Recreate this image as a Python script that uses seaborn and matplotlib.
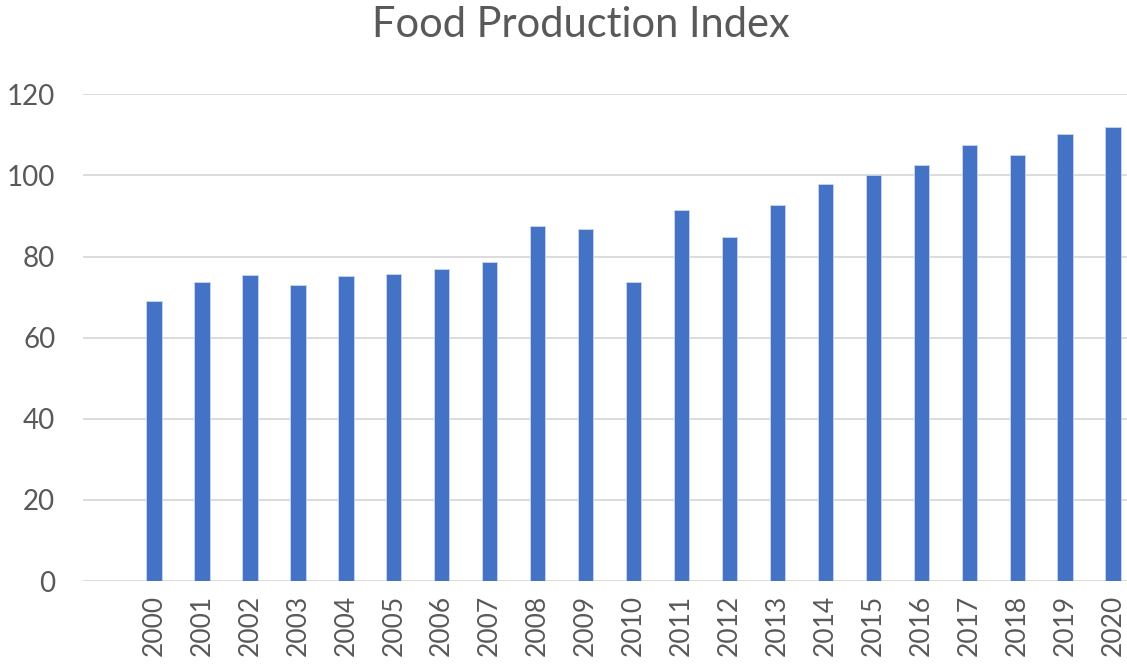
import matplotlib
matplotlib.use("Agg")
import matplotlib.pyplot as plt
import numpy as np
import pandas as pd
import seaborn as sns


# data
years = [str(y) for y in range(2000, 2021)]
index_values = [69.0, 73.7, 75.4, 72.9, 75.1, 75.7, 76.9, 78.6, 87.5, 86.8,
                73.7, 91.5, 84.7, 92.7, 97.8, 100.2, 102.5, 107.5, 105.0, 110.2, 112.0]
y_ticks = [0, 20, 40, 60, 80, 100, 120]

df = pd.DataFrame({"year": years, "index": index_values})

sns.set_theme(style="white")
plt.rcParams["font.family"] = ["Lato", "DejaVu Sans"]

text_color = "#595959"
bar_color = "#4472C4"
grid_color = "#D9D9D9"

fig = plt.figure(figsize=(11.27, 6.64), dpi=100)
ax = fig.add_axes([0.0737, 0.125, 0.9263, 0.733])

sns.barplot(data=df, x="year", y="index", order=years, color=bar_color,
            width=0.32, edgecolor="#C9D6EE", linewidth=0.6, saturation=1, ax=ax)

ax.set_ylim(0, 120)
ax.set_xlim(-1.48, 20.29)
ax.set_yticks(y_ticks)
ax.set_yticklabels([str(t) for t in y_ticks], fontsize=20, color=text_color)
ax.tick_params(axis="x", labelrotation=90, labelsize=19, colors=text_color, length=0, pad=10)
ax.tick_params(axis="y", length=0, pad=20)
for lbl in ax.get_xticklabels():
    lbl.set_color(text_color)

ax.grid(axis="y", color=grid_color, linewidth=1.3)
ax.set_axisbelow(True)
for side in ["top", "right", "left", "bottom"]:
    ax.spines[side].set_visible(False)
ax.set_xlabel("")
ax.set_ylabel("")

fig.text(0.515, 0.962, "Food Production Index", ha="center", va="center",
         fontsize=30, color=text_color)

fig.savefig("out.png", dpi=100)
